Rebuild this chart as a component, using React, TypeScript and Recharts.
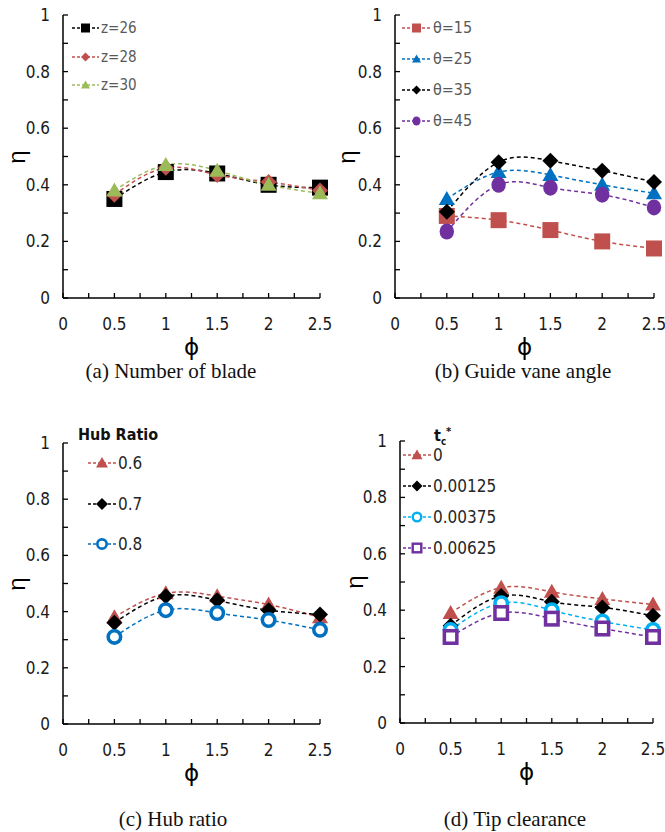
import React from 'react';
import { LineChart, Line, XAxis, YAxis, Legend } from 'recharts';

// flow coefficient values shared by every panel
const phiValues = [0.5, 1, 1.5, 2, 2.5];
const xTicks = [0, 0.25, 0.5, 0.75, 1, 1.25, 1.5, 1.75, 2, 2.25, 2.5];
const yTicks = [0, 0.1, 0.2, 0.3, 0.4, 0.5, 0.6, 0.7, 0.8, 0.9, 1];

// (a) number of blades
const bladeZ26 = [0.35, 0.445, 0.44, 0.4, 0.39];
const bladeZ28 = [0.365, 0.46, 0.435, 0.41, 0.38];
const bladeZ30 = [0.38, 0.47, 0.45, 0.4, 0.37];

// (b) guide vane angle
const vane15 = [0.29, 0.275, 0.24, 0.2, 0.175];
const vane25 = [0.35, 0.445, 0.435, 0.4, 0.37];
const vane35 = [0.305, 0.48, 0.485, 0.45, 0.41];
const vane45 = [0.235, 0.4, 0.39, 0.365, 0.32];

// (c) hub ratio
const hub06 = [0.38, 0.465, 0.455, 0.425, 0.38];
const hub07 = [0.36, 0.455, 0.44, 0.405, 0.39];
const hub08 = [0.31, 0.405, 0.395, 0.37, 0.335];

// (d) tip clearance
const tip0 = [0.39, 0.48, 0.465, 0.44, 0.42];
const tip00125 = [0.345, 0.45, 0.43, 0.41, 0.38];
const tip00375 = [0.33, 0.425, 0.4, 0.36, 0.33];
const tip00625 = [0.305, 0.39, 0.37, 0.335, 0.305];

const RED = '#C0504D';
const GREEN = '#9BBB59';
const BLUE = '#0070C0';
const CYAN = '#00B0F0';
const PURPLE = '#7030A0';
const BLACK = '#000000';

const NARROW = "'Liberation Sans Narrow', 'DejaVu Sans Condensed', 'Liberation Sans', sans-serif";
const SERIF = "'Liberation Serif', 'Times New Roman', serif";

const PAGE_W = 665;
const Y_AXIS_W = 60;
const X_AXIS_H = 70;
const TOP_PAD = 16;
const AXIS = { stroke: '#000', strokeWidth: 1.5 };

type Shape = 'square' | 'diamond' | 'triangle' | 'circle' | 'ring' | 'box';

type Series = { key: string; name: string; color: string; shape: Shape; values: number[] };

type PanelCfg = {
  caption: string;
  plotLeft: number;
  plotTop: number;
  plotW: number;
  plotH: number;
  etaX: number;
  captionX: number;
  captionY: number;
  legend: {
    x: number;
    y0: number;
    gap: number;
    lineW: number;
    marker: number;
    fontSize: number;
    color: string;
    title?: React.ReactNode;
    titleX?: number;
    titleY?: number;
  };
  series: Series[];
};

function Marker({ shape, cx, cy, size, color }: { shape: Shape; cx: number; cy: number; size: number; color: string }) {
  const h = size / 2;
  if (shape === 'square') return <rect x={cx - h} y={cy - h} width={size} height={size} fill={color} />;
  if (shape === 'diamond')
    return <polygon points={`${cx},${cy - h} ${cx + h},${cy} ${cx},${cy + h} ${cx - h},${cy}`} fill={color} />;
  if (shape === 'triangle')
    return <polygon points={`${cx},${cy - h} ${cx + h},${cy + h * 0.75} ${cx - h},${cy + h * 0.75}`} fill={color} />;
  if (shape === 'circle') return <ellipse cx={cx} cy={cy} rx={h * 0.9} ry={h} fill={color} />;
  const sw = Math.max(1.5, size * 0.22);
  if (shape === 'ring') return <circle cx={cx} cy={cy} r={h - sw / 2} fill="#fff" stroke={color} strokeWidth={sw} />;
  return (
    <rect x={cx - h + sw / 2} y={cy - h + sw / 2} width={size - sw} height={size - sw} fill="#fff" stroke={color} strokeWidth={sw} />
  );
}

const renderXTick = (props: any) => {
  const { x, y, payload } = props;
  const v = payload.value as number;
  const major = Math.abs(v * 2 - Math.round(v * 2)) < 1e-6;
  return (
    <g>
      <line x1={x} x2={x} y1={y} y2={y - 5} stroke="#000" strokeWidth={1.3} />
      {major && (
        <text x={x} y={y + 26} textAnchor="middle" dominantBaseline="central" fontFamily={NARROW} fontSize={17} fill="#1a1a1a">
          {v}
        </text>
      )}
    </g>
  );
};

const renderYTick = (props: any) => {
  const { x, y, payload } = props;
  const v = payload.value as number;
  const major = Math.round(v * 10) % 2 === 0;
  return (
    <g>
      <line x1={x} x2={x + 5} y1={y} y2={y} stroke="#000" strokeWidth={1.3} />
      {major && (
        <text x={x - 13} y={y} textAnchor="end" dominantBaseline="central" fontFamily={NARROW} fontSize={17} fill="#1a1a1a">
          {v}
        </text>
      )}
    </g>
  );
};

const panels: PanelCfg[] = [
  {
    caption: '(a) Number of blade',
    plotLeft: 63,
    plotTop: 15,
    plotW: 257,
    plotH: 283,
    etaX: 17,
    captionX: 171,
    captionY: 371,
    legend: { x: 72, y0: 28, gap: 28.5, lineW: 27, marker: 9, fontSize: 15, color: '#595959' },
    series: [
      { key: 'z26', name: 'z=26', color: BLACK, shape: 'square', values: bladeZ26 },
      { key: 'z28', name: 'z=28', color: RED, shape: 'diamond', values: bladeZ28 },
      { key: 'z30', name: 'z=30', color: GREEN, shape: 'triangle', values: bladeZ30 },
    ],
  },
  {
    caption: '(b) Guide vane angle',
    plotLeft: 395,
    plotTop: 15,
    plotW: 259,
    plotH: 283,
    etaX: 347,
    captionX: 523,
    captionY: 371,
    legend: { x: 402, y0: 28, gap: 31, lineW: 29, marker: 9, fontSize: 16, color: '#595959' },
    series: [
      { key: 't15', name: 'θ=15', color: RED, shape: 'square', values: vane15 },
      { key: 't25', name: 'θ=25', color: BLUE, shape: 'triangle', values: vane25 },
      { key: 't35', name: 'θ=35', color: BLACK, shape: 'diamond', values: vane35 },
      { key: 't45', name: 'θ=45', color: PURPLE, shape: 'circle', values: vane45 },
    ],
  },
  {
    caption: '(c) Hub ratio',
    plotLeft: 63,
    plotTop: 443,
    plotW: 257,
    plotH: 281,
    etaX: 17,
    captionX: 173,
    captionY: 819,
    legend: {
      x: 88,
      y0: 463,
      gap: 40.5,
      lineW: 28,
      marker: 12,
      fontSize: 17,
      color: '#262626',
      title: <b>Hub Ratio</b>,
      titleX: 78,
      titleY: 435,
    },
    series: [
      { key: 'h6', name: '0.6', color: RED, shape: 'triangle', values: hub06 },
      { key: 'h7', name: '0.7', color: BLACK, shape: 'diamond', values: hub07 },
      { key: 'h8', name: '0.8', color: BLUE, shape: 'ring', values: hub08 },
    ],
  },
  {
    caption: '(d) Tip clearance',
    plotLeft: 400,
    plotTop: 441,
    plotW: 253,
    plotH: 282,
    etaX: 355,
    captionX: 515,
    captionY: 819,
    legend: {
      x: 403,
      y0: 455,
      gap: 31,
      lineW: 28,
      marker: 11,
      fontSize: 17,
      color: '#262626',
      title: (
        <b>
          t<sub style={{ fontSize: '60%' }}>c</sub>
          <sup style={{ fontSize: '70%' }}>*</sup>
        </b>
      ),
      titleX: 434,
      titleY: 432,
    },
    series: [
      { key: 'c0', name: '0', color: RED, shape: 'triangle', values: tip0 },
      { key: 'c1', name: '0.00125', color: BLACK, shape: 'diamond', values: tip00125 },
      { key: 'c3', name: '0.00375', color: CYAN, shape: 'ring', values: tip00375 },
      { key: 'c6', name: '0.00625', color: PURPLE, shape: 'box', values: tip00625 },
    ],
  },
];

function Panel({ cfg }: { cfg: PanelCfg }) {
  const rightPad = Math.min(16, PAGE_W - cfg.plotLeft - cfg.plotW);
  const chartLeft = cfg.plotLeft - Y_AXIS_W;
  const chartTop = cfg.plotTop - TOP_PAD;
  const width = Y_AXIS_W + cfg.plotW + rightPad;
  const height = TOP_PAD + cfg.plotH + X_AXIS_H;
  const lg = cfg.legend;

  const data = phiValues.map((phi, i) => {
    const row: Record<string, number> = { phi };
    cfg.series.forEach((s) => {
      row[s.key] = s.values[i];
    });
    return row;
  });

  const renderLegend = (props: any) => (
    <div style={{ position: 'relative', width: 160, height: 180 }}>
      {lg.title && (
        <div
          style={{
            position: 'absolute',
            left: (lg.titleX ?? lg.x) - lg.x,
            top: (lg.titleY ?? 0) - chartTop - 10,
            height: 20,
            lineHeight: '20px',
            fontFamily: NARROW,
            fontSize: 16,
            color: '#111',
            whiteSpace: 'nowrap',
          }}
        >
          {lg.title}
        </div>
      )}
      {(props.payload || []).map((entry: any, i: number) => {
        const s = cfg.series.find((x) => x.key === entry.dataKey) || cfg.series[i];
        const cy = lg.y0 + i * lg.gap - chartTop;
        return (
          <div
            key={s.key}
            style={{ position: 'absolute', left: 0, top: cy - 10, height: 20, display: 'flex', alignItems: 'center', whiteSpace: 'nowrap' }}
          >
            <svg width={lg.lineW} height={20} style={{ display: 'block' }}>
              <line x1={0} x2={lg.lineW} y1={10} y2={10} stroke={s.color} strokeWidth={1.3} strokeDasharray="3 2" />
              <Marker shape={s.shape} cx={lg.lineW / 2} cy={10} size={lg.marker} color={s.color} />
            </svg>
            <span style={{ marginLeft: 2, fontFamily: NARROW, fontSize: lg.fontSize, color: lg.color, lineHeight: '20px' }}>
              {entry.value}
            </span>
          </div>
        );
      })}
    </div>
  );

  return (
    <>
      <div style={{ position: 'absolute', left: chartLeft, top: chartTop }}>
        <LineChart width={width} height={height} data={data} margin={{ top: TOP_PAD, right: rightPad, bottom: 0, left: 0 }}>
          <XAxis
            dataKey="phi"
            type="number"
            domain={[0, 2.5]}
            ticks={xTicks}
            interval={0}
            height={X_AXIS_H}
            tickSize={0}
            tickMargin={0}
            tickLine={false}
            tick={renderXTick}
            axisLine={AXIS}
          />
          <YAxis
            type="number"
            domain={[0, 1]}
            ticks={yTicks}
            interval={0}
            width={Y_AXIS_W}
            tickSize={0}
            tickMargin={0}
            tickLine={false}
            tick={renderYTick}
            axisLine={AXIS}
          />
          <Legend
            layout="vertical"
            align="center"
            verticalAlign="middle"
            content={renderLegend}
            wrapperStyle={{ left: lg.x - chartLeft, top: 0, right: 'auto', bottom: 'auto', width: 160, height: 180 }}
          />
          {cfg.series.map((s) => (
            <Line
              key={s.key}
              dataKey={s.key}
              name={s.name}
              type="natural"
              stroke={s.color}
              strokeWidth={1.5}
              strokeDasharray="4 3"
              isAnimationActive={false}
              activeDot={false}
              dot={(p: any) => <Marker key={`${s.key}-${p.index}`} shape={s.shape} cx={p.cx} cy={p.cy} size={16} color={s.color} />}
            />
          ))}
        </LineChart>
      </div>
      {/* axis titles */}
      <div
        style={{
          position: 'absolute',
          left: cfg.etaX - 15,
          top: cfg.plotTop + cfg.plotH / 2 - 15,
          width: 30,
          height: 30,
          lineHeight: '30px',
          textAlign: 'center',
          transform: 'rotate(-90deg)',
          fontFamily: "'Liberation Sans', sans-serif",
          fontSize: 24,
        }}
      >
        η
      </div>
      <div
        style={{
          position: 'absolute',
          left: cfg.plotLeft + cfg.plotW / 2 - 20,
          top: cfg.plotTop + cfg.plotH + 49 - 13,
          width: 40,
          height: 26,
          lineHeight: '26px',
          textAlign: 'center',
          fontFamily: "'DejaVu Sans', sans-serif",
          fontSize: 23,
        }}
      >
        ϕ
      </div>
      <div
        style={{
          position: 'absolute',
          left: cfg.captionX - 150,
          top: cfg.captionY - 12,
          width: 300,
          height: 24,
          lineHeight: '24px',
          textAlign: 'center',
          fontFamily: SERIF,
          fontSize: 21,
          color: '#111',
        }}
      >
        {cfg.caption}
      </div>
    </>
  );
}

export default function App() {
  return (
    <div style={{ position: 'absolute', left: 0, top: 0, width: PAGE_W, height: 832, overflow: 'hidden', background: '#fff' }}>
      {panels.map((p) => (
        <Panel key={p.caption} cfg={p} />
      ))}
    </div>
  );
}
